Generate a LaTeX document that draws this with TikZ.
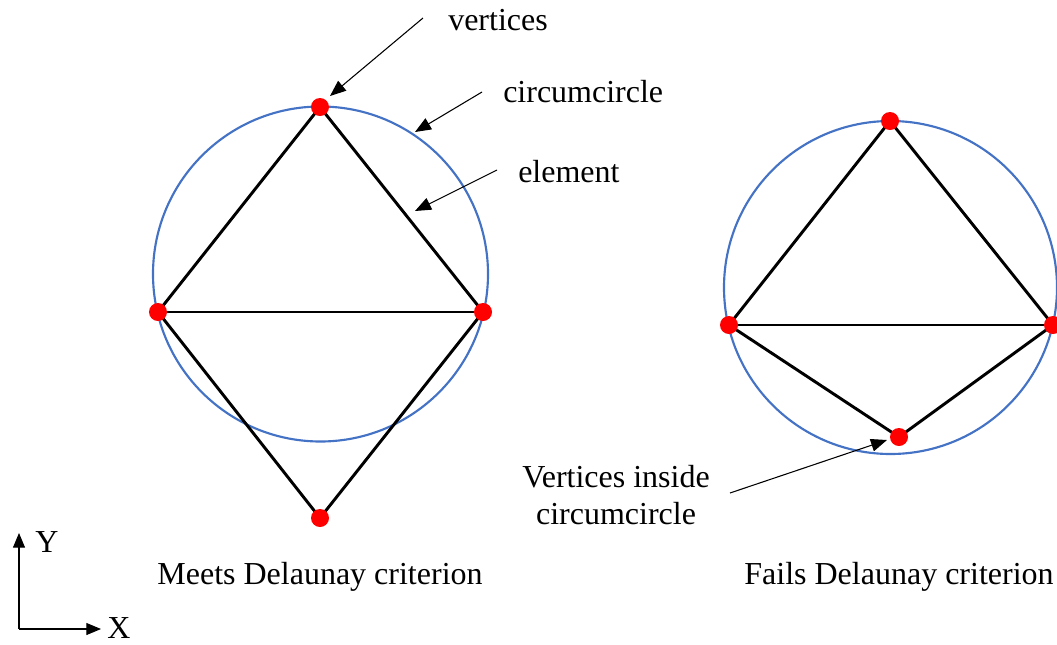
\documentclass[tikz,border=0pt]{standalone}
\usepackage{fontspec}
\setmainfont{Liberation Serif}
\usetikzlibrary{arrows.meta,positioning}
\definecolor{dlblue}{HTML}{4472C4}
\definecolor{dlred}{HTML}{FF0000}
\tikzset{
  circum/.style={draw=dlblue,line width=1.6pt},
  mesh/.style={draw=black,line width=2.2pt,line join=round},
  vtx/.style={circle,fill=dlred,inner sep=0pt,minimum size=13.5pt},
  callout/.style={-{Triangle[length=12pt,width=9.5pt]},line width=0.8pt},
  axarrow/.style={-{Triangle[length=11pt,width=9pt]},line width=0.8pt},
  lbl/.style={inner sep=0pt,font=\fontsize{24}{28}\selectfont},
}
\begin{document}
\begin{tikzpicture}[x=0.75pt,y=-0.75pt]
\useasboundingbox (0,0) rectangle (1057,644);
% meets criterion
\coordinate (lc) at (320.5,274);
\coordinate (lt) at (320,107);
\coordinate (ll) at (158,312);
\coordinate (lr) at (483,312);
\coordinate (lb) at (320,518);
\draw[circum] (lc) circle (167.5);
\draw[mesh] (lt) -- (ll) -- (lb) -- (lr) -- cycle;
\draw[mesh] (ll) -- (lr);
\node[vtx] (lt-dot) at (lt) {};
\node[vtx] (ll-dot) at (ll) {};
\node[vtx] (lr-dot) at (lr) {};
\node[vtx] (lb-dot) at (lb) {};
% fails criterion
\coordinate (rc) at (890.5,287.5);
\coordinate (rt) at (890,121);
\coordinate (rl) at (729,325);
\coordinate (rr) at (1053,325);
\coordinate (rb) at (899,437);
\draw[circum] (rc) circle (166.5);
\draw[mesh] (rt) -- (rl) -- (rb) -- (rr) -- cycle;
\draw[mesh] (rl) -- (rr);
\node[vtx] (rt-dot) at (rt) {};
\node[vtx] (rl-dot) at (rl) {};
\node[vtx] (rr-dot) at (rr) {};
\node[vtx] (rb-dot) at (rb) {};
% labels and callouts
\node[lbl,anchor=base west] (vlabel) at (448,30) {vertices};
\node[lbl,anchor=base west] (clabel) at (503,102) {circumcircle};
\node[lbl,anchor=base west] (elabel) at (518,182) {element};
\node[lbl,align=center] (ilabel) at (616,495) {Vertices inside\\circumcircle};
\coordinate (vfrom) at (423,18);  \coordinate (vto) at (330,96);
\coordinate (cfrom) at (482,92);  \coordinate (cto) at (415,132);
\coordinate (efrom) at (497,170); \coordinate (eto) at (415,211);
\coordinate (ifrom) at (730,493); \coordinate (ito) at (887,440);
\draw[callout] (vfrom) -- (vto);
\draw[callout] (cfrom) -- (cto);
\draw[callout] (efrom) -- (eto);
\draw[callout] (ifrom) -- (ito);
\node[lbl,anchor=base] (meets) at (320,584) {Meets Delaunay criterion};
\node[lbl,anchor=base] (fails) at (899,584) {Fails Delaunay criterion};
% axes
\coordinate (o) at (19,629);
\coordinate (ytip) at (19,533);
\coordinate (xtip) at (101,629);
\draw[axarrow] (o) -- (ytip);
\draw[axarrow] (o) -- (xtip);
\node[lbl,anchor=base west] (ylabel) at (35,552) {Y};
\node[lbl,anchor=base west] (xlabel) at (107,638) {X};
\end{tikzpicture}
\end{document}
